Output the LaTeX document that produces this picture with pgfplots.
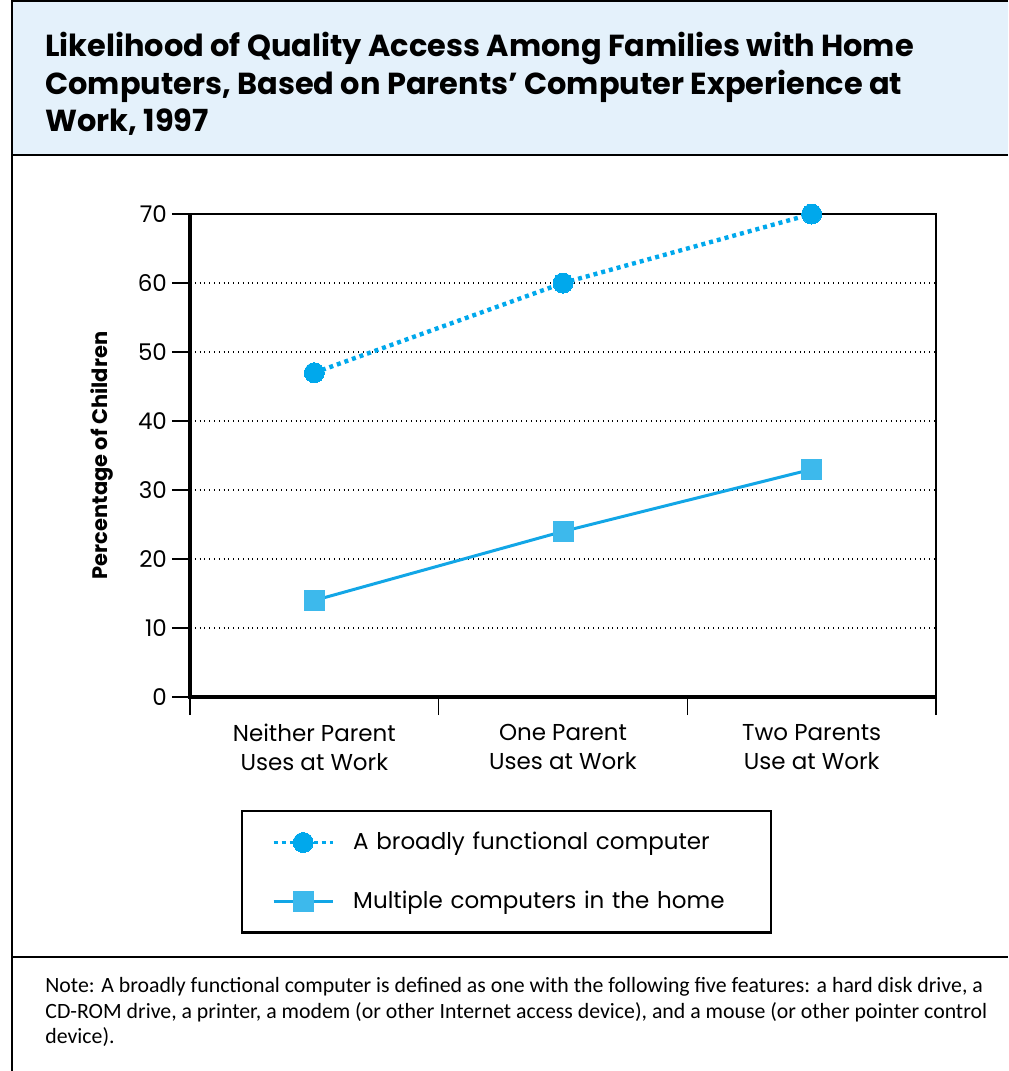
\documentclass[border=0pt]{standalone}
\usepackage{fontspec}
\setmainfont{Poppins}
\newfontfamily\notefont{Carlito}
\usepackage{pgfplots}
\pgfplotsset{compat=1.18}
\definecolor{titlebg}{HTML}{E4F1FB}
\definecolor{dotblue}{HTML}{00A8EC}
\definecolor{sqblue}{HTML}{3DB9EC}
\definecolor{lineblue}{HTML}{12A6E6}
\begin{document}
\begin{tikzpicture}
\useasboundingbox (0,0) rectangle (504pt,-535.5pt);
% frame and title band
\fill[titlebg] (6pt,0) rectangle (504pt,-77.5pt);
\draw[line width=0.8pt] (6pt,-0.4pt) -- (504pt,-0.4pt);
\draw[line width=0.8pt] (6pt,0) -- (6pt,-535.5pt);
\draw[line width=0.8pt] (6pt,-77.5pt) -- (504pt,-77.5pt);
\draw[line width=0.8pt] (6pt,-478.5pt) -- (504pt,-478.5pt);
\begin{scope}[every node/.style={anchor=base west, inner sep=0pt, font=\fontsize{15.2}{18.75}\selectfont\bfseries}]
\node at (22.5pt,-28pt) {Likelihood of Quality Access Among Families with Home};
\node at (22.5pt,-47pt) {Computers, Based on Parents’ Computer Experience at};
\node at (22.5pt,-65.5pt) {Work, 1997};
\end{scope}
\begin{scope}[every node/.style={anchor=base west, inner sep=0pt, font=\notefont\fontsize{10.9}{12.5}\selectfont}]
\node at (22.5pt,-496pt) {Note: A broadly functional computer is defined as one with the following five features: a hard disk drive, a};
\node at (22.5pt,-509pt) {CD-ROM drive, a printer, a modem (or other Internet access device), and a mouse (or other pointer control};
\node at (22.5pt,-521.5pt) {device).};
\end{scope}
\node[rotate=90, font=\fontsize{10.5}{13}\selectfont\bfseries] at (51pt,-227.75pt) {Percentage of Children};

\begin{axis}[
  at={(95pt,-348.5pt)}, anchor=south west,
  scale only axis, width=373pt, height=241.5pt,
  xmin=0, xmax=3, ymin=0, ymax=70,
  ytick={0,10,...,70},
  xtick={0,1,2,3}, xticklabels={},
  xtick pos=bottom, ytick pos=left,
  extra x ticks={0.5,1.5,2.5},
  extra x tick labels={Neither Parent\\Uses at Work, One Parent\\Uses at Work, Two Parents\\Use at Work},
  extra x tick style={major tick length=0pt, grid=none,
    xticklabel style={align=center, font=\fontsize{11.5}{14.5}\selectfont, yshift=-10pt}},
  tick align=outside, major tick length=9pt,
  tick style={black, line width=0.7pt},
  /pgf/number format/assume math mode=true,
  yticklabel style={font=\fontsize{11.5}{14}\selectfont, xshift=1pt},
  axis line style={line width=1.2pt},
  extra y ticks={10,20,30,40,50,60}, extra y tick labels={},
  extra y tick style={ymajorgrids=true, major tick length=0pt, major grid style={black, dotted, line width=0.7pt}},
  legend style={at={(0.0684,-0.234)}, anchor=north west, draw=black, line width=1.2pt,
    inner xsep=15pt, inner ysep=8.5pt, row sep=15pt,
    /tikz/every odd column/.append style={column sep=7.5pt},
    nodes={font=\fontsize{11.5}{14}\selectfont, text width=192pt, inner sep=2pt}},
  legend cell align=left,
  legend image code/.code={\draw[mark repeat=2, mark phase=2, line width=1.5pt] plot coordinates {(0pt,0pt) (14.75pt,0pt) (29.5pt,0pt)};},
  clip=false,
]
\addplot[dotblue, line width=2.2pt, dash pattern=on 2pt off 2pt, mark=*, mark size=5pt,
  mark options={solid, fill=dotblue, draw=dotblue, line width=0pt}] coordinates {(0.5,47) (1.5,60) (2.5,70)};
\addlegendentry{A broadly functional computer}
\addplot[lineblue, line width=1.5pt, mark=square*, mark size=5pt,
  mark options={solid, fill=sqblue, draw=sqblue, line width=0pt}] coordinates {(0.5,14) (1.5,24) (2.5,33)};
\addlegendentry{Multiple computers in the home}
\draw[line width=1.8pt] (rel axis cs:0,1) -- (rel axis cs:0,0) -- (rel axis cs:1,0);
\end{axis}
\end{tikzpicture}
\end{document}
